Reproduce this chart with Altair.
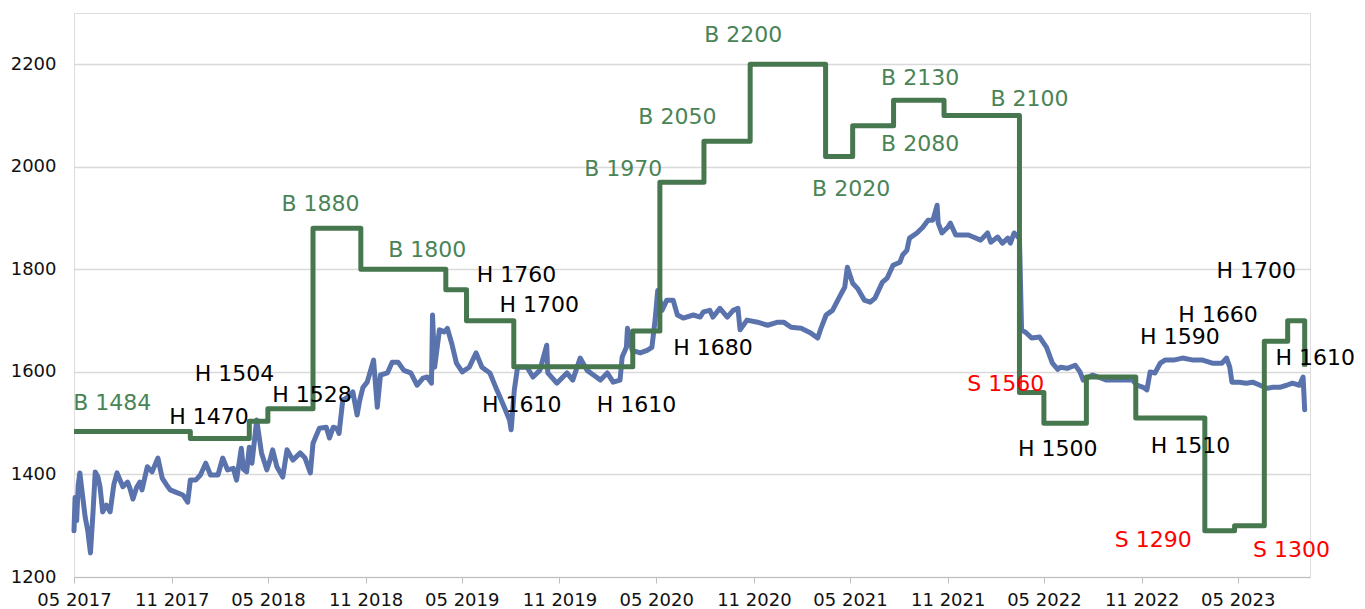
import altair as alt
import pandas as pd

# ---- price series (blue) ----
price_dates = [
    "2017-05-01", "2017-05-03", "2017-05-06", "2017-05-09", "2017-05-12", "2017-05-17", "2017-05-22", "2017-05-27",
    "2017-06-01", "2017-06-06", "2017-06-10", "2017-06-15", "2017-06-19", "2017-06-24", "2017-07-01", "2017-07-08",
    "2017-07-15", "2017-07-21", "2017-08-01", "2017-08-10", "2017-08-14", "2017-08-20", "2017-08-27", "2017-09-02",
    "2017-09-06", "2017-09-16", "2017-09-25", "2017-10-06", "2017-10-14", "2017-10-22", "2017-10-29", "2017-11-12",
    "2017-11-22", "2017-12-01", "2017-12-06", "2017-12-16", "2017-12-25", "2018-01-04", "2018-01-13", "2018-01-27",
    "2018-02-05", "2018-02-14", "2018-02-25", "2018-03-03", "2018-03-12", "2018-03-16", "2018-03-22", "2018-03-27",
    "2018-04-01", "2018-04-10", "2018-04-19", "2018-04-29", "2018-05-05", "2018-05-10", "2018-05-18", "2018-05-29",
    "2018-06-06", "2018-06-17", "2018-07-01", "2018-07-10", "2018-07-20", "2018-07-25", "2018-08-06", "2018-08-19",
    "2018-08-25", "2018-09-01", "2018-09-08", "2018-09-12", "2018-09-19", "2018-09-29", "2018-10-08", "2018-10-16",
    "2018-10-21", "2018-10-27", "2018-11-04", "2018-11-16", "2018-11-23", "2018-11-29", "2018-12-12", "2018-12-21",
    "2019-01-01", "2019-01-12", "2019-01-25", "2019-02-06", "2019-02-17", "2019-02-25", "2019-03-05", "2019-03-07",
    "2019-03-11", "2019-03-20", "2019-03-29", "2019-04-04", "2019-04-12", "2019-04-21", "2019-05-02", "2019-05-15",
    "2019-05-28", "2019-06-08", "2019-06-23", "2019-07-06", "2019-07-17", "2019-07-30", "2019-08-02", "2019-08-08",
    "2019-08-14", "2019-09-01", "2019-09-12", "2019-09-25", "2019-10-08", "2019-10-10", "2019-10-27", "2019-11-15",
    "2019-11-26", "2019-12-10", "2019-12-23", "2020-01-04", "2020-01-17", "2020-01-30", "2020-02-10", "2020-02-23",
    "2020-02-27", "2020-03-06", "2020-03-08", "2020-03-17", "2020-04-01", "2020-04-14", "2020-04-23", "2020-04-29",
    "2020-05-04", "2020-05-12", "2020-05-21", "2020-06-02", "2020-06-10", "2020-06-21", "2020-07-10", "2020-07-23",
    "2020-07-29", "2020-08-10", "2020-08-16", "2020-08-29", "2020-09-12", "2020-09-23", "2020-10-02", "2020-10-06",
    "2020-10-19", "2020-11-08", "2020-11-27", "2020-12-16", "2020-12-27", "2021-01-10", "2021-01-29", "2021-02-16",
    "2021-03-01", "2021-03-08", "2021-03-17", "2021-03-29", "2021-04-11", "2021-04-21", "2021-04-26", "2021-05-06",
    "2021-05-15", "2021-05-28", "2021-06-08", "2021-06-17", "2021-07-01", "2021-07-10", "2021-07-21", "2021-08-03",
    "2021-08-08", "2021-08-16", "2021-08-21", "2021-09-04", "2021-09-15", "2021-09-25", "2021-10-04", "2021-10-12",
    "2021-10-14", "2021-10-21", "2021-11-01", "2021-11-06", "2021-11-16", "2021-11-29", "2021-12-10", "2021-12-19",
    "2022-01-02", "2022-01-15", "2022-01-21", "2022-02-03", "2022-02-12", "2022-02-22", "2022-02-27", "2022-03-06",
    "2022-03-12", "2022-03-16", "2022-03-20", "2022-03-29", "2022-04-08", "2022-04-23", "2022-05-06", "2022-05-17",
    "2022-05-27", "2022-06-01", "2022-06-14", "2022-06-29", "2022-07-08", "2022-07-14", "2022-08-01", "2022-08-27",
    "2022-09-21", "2022-10-15", "2022-10-23", "2022-11-04", "2022-11-11", "2022-11-17", "2022-11-26", "2022-12-06",
    "2022-12-15", "2022-12-31", "2023-01-17", "2023-02-06", "2023-02-24", "2023-03-14", "2023-04-01", "2023-04-10",
    "2023-04-16", "2023-04-20", "2023-05-04", "2023-05-17", "2023-05-29", "2023-06-12", "2023-06-25", "2023-07-06",
    "2023-07-19", "2023-08-01", "2023-08-12", "2023-08-25", "2023-09-01", "2023-09-04",
]
price_values = [
    1290, 1355, 1310, 1380, 1403, 1360, 1317, 1290,
    1247, 1330, 1405, 1395, 1376, 1327, 1340, 1327,
    1380, 1403, 1376, 1385, 1374, 1352, 1375, 1385,
    1370, 1415, 1405, 1432, 1393, 1380, 1370, 1364,
    1360, 1346, 1389, 1389, 1399, 1422, 1399, 1399,
    1432, 1409, 1412, 1389, 1451, 1410, 1405, 1453,
    1422, 1506, 1442, 1409, 1428, 1448, 1415, 1395,
    1448, 1428, 1442, 1432, 1403, 1461, 1490, 1492,
    1471, 1492, 1490, 1480, 1545, 1551, 1561, 1516,
    1545, 1570, 1580, 1623, 1531, 1594, 1598, 1619,
    1619, 1603, 1598, 1574, 1588, 1590, 1578, 1711,
    1609, 1682, 1678, 1685, 1656, 1617, 1600, 1609,
    1637, 1609, 1598, 1565, 1539, 1506, 1487, 1565,
    1609, 1609, 1590, 1603, 1652, 1598, 1578, 1598,
    1584, 1627, 1603, 1594, 1584, 1598, 1580, 1584,
    1629, 1648, 1685, 1642, 1637, 1642, 1648, 1701,
    1759, 1720, 1740, 1740, 1711, 1705, 1711, 1707,
    1717, 1720, 1707, 1724, 1707, 1720, 1724, 1682,
    1701, 1697, 1691, 1697, 1697, 1687, 1685, 1676,
    1666, 1687, 1711, 1720, 1746, 1765, 1804, 1773,
    1763, 1740, 1736, 1744, 1775, 1783, 1808, 1814,
    1828, 1837, 1861, 1871, 1882, 1896, 1896, 1925,
    1890, 1871, 1882, 1890, 1867, 1867, 1867, 1863,
    1857, 1871, 1853, 1863, 1851, 1861, 1851, 1871,
    1865, 1860, 1682, 1676, 1666, 1668, 1648, 1617,
    1605, 1609, 1607, 1613, 1600, 1584, 1594, 1584,
    1584, 1584, 1574, 1570, 1565, 1600, 1598, 1617,
    1623, 1623, 1627, 1623, 1623, 1617, 1617, 1627,
    1609, 1580, 1580, 1578, 1580, 1574, 1568, 1570,
    1570, 1574, 1578, 1574, 1590, 1526,
]

# ---- target price step series (green) ----
target_dates = [
    "2017-05-01", "2017-12-06", "2018-03-27", "2018-05-01", "2018-07-25", "2018-10-23", "2019-04-01",
    "2019-05-10", "2019-08-07", "2020-03-18", "2020-05-08", "2020-07-30", "2020-10-25", "2021-03-16",
    "2021-05-06", "2021-07-22", "2021-10-25", "2022-03-16", "2022-05-01", "2022-07-20", "2022-10-21",
    "2023-02-28", "2023-04-25", "2023-06-20", "2023-08-03", "2023-09-04",
]
target_values = [
    1484, 1470, 1504, 1528, 1880, 1800, 1760,
    1700, 1610, 1680, 1970, 2050, 2200, 2020,
    2080, 2130, 2100, 1560, 1500, 1590, 1510,
    1290, 1300, 1660, 1700, 1610,
]

# ---- annotations ----
label_texts = [
    "B 1484", "H 1470", "H 1504", "H 1528", "B 1880", "B 1800", "H 1760", "H 1700", "H 1610",
    "H 1610", "H 1680", "B 1970", "B 2050", "B 2200", "B 2020", "B 2080", "B 2130", "B 2100",
    "S 1560", "H 1500", "H 1590", "H 1510", "S 1290", "S 1300", "H 1660", "H 1700", "H 1610",
]
label_dates = [
    "2017-07-12", "2018-01-10", "2018-02-27", "2018-07-23", "2018-08-08", "2019-02-25", "2019-08-12",
    "2019-09-24", "2019-08-22", "2020-03-25", "2020-08-16", "2020-02-29", "2020-06-10", "2020-10-12",
    "2021-05-03", "2021-09-10", "2021-09-10", "2022-04-04", "2022-02-18", "2022-05-27", "2023-01-12",
    "2023-02-01", "2022-11-23", "2023-08-10", "2023-03-25", "2023-06-05", "2023-09-24",
]
label_values = [
    1539, 1512, 1596, 1555, 1927, 1837, 1789, 1730, 1535,
    1535, 1646, 1995, 2097, 2258, 1956, 2044, 2173, 2132,
    1576, 1449, 1668, 1455, 1272, 1253, 1711, 1796, 1627,
]

y_ticks = [1200, 1400, 1600, 1800, 2000, 2200]
x_tick_years_months = [(y, m) for y in range(2017, 2024) for m in (5, 11)][:13]

price_df = pd.DataFrame({"date": pd.to_datetime(price_dates), "price": price_values})
target_df = pd.DataFrame({"date": pd.to_datetime(target_dates), "target": target_values})
label_df = pd.DataFrame({
    "date": pd.to_datetime(label_dates),
    "value": label_values,
    "text": label_texts,
    "kind": [t[0] for t in label_texts],
})

FONT = "DejaVu Sans"
GREEN_LINE = "#47774f"
GREEN_TEXT = "#4a8456"
BLUE = "#5a73ad"

x_scale = alt.Scale(domain=[alt.DateTime(year=2017, month=5, date=1),
                            alt.DateTime(year=2023, month=9, date=14)])
y_scale = alt.Scale(domain=[1200, 2300], nice=False, zero=False)

x_axis = alt.Axis(
    values=[alt.DateTime(year=y, month=m, date=1) for y, m in x_tick_years_months],
    format="%m %Y", formatType="time", title=None, grid=False,
    labelFontSize=18, labelFont=FONT, labelColor="#111111", labelPadding=8,
    tickColor="#bfbfbf", tickSize=6, domainColor="#bfbfbf", labelOverlap=False,
    labelFlush=False, labelBound=False,
)
y_axis = alt.Axis(
    values=y_ticks, format="d", title=None, grid=True, gridColor="#d9d9d9", gridWidth=1.5,
    labelFontSize=18, labelFont=FONT, labelColor="#111111", labelPadding=18,
    ticks=False, domain=False,
)

price_line = alt.Chart(price_df).mark_line(
    color=BLUE, strokeWidth=5, strokeJoin="round", strokeCap="round"
).encode(
    x=alt.X("date:T", scale=x_scale, axis=x_axis),
    y=alt.Y("price:Q", scale=y_scale, axis=y_axis),
)

target_line = alt.Chart(target_df).mark_line(
    color=GREEN_LINE, strokeWidth=5, interpolate="step-after", strokeJoin="round"
).encode(
    x=alt.X("date:T", scale=x_scale),
    y=alt.Y("target:Q", scale=y_scale),
)

labels = alt.Chart(label_df).mark_text(
    font=FONT, fontSize=22, align="center", baseline="middle", clip=False
).encode(
    x=alt.X("date:T", scale=x_scale),
    y=alt.Y("value:Q", scale=y_scale),
    text="text:N",
    color=alt.Color("kind:N", scale=alt.Scale(domain=["B", "H", "S"],
                                               range=[GREEN_TEXT, "#000000", "#ff0000"]),
                    legend=None),
)

chart = alt.layer(price_line, target_line, labels).properties(
    width=1236, height=564,
    padding={"left": 2, "top": 5, "right": 0, "bottom": 0},
).configure_view(stroke="#d9d9d9", strokeWidth=1.5).configure(background="white")

chart.save("out.html", embed_options={"renderer": "svg", "actions": False})
